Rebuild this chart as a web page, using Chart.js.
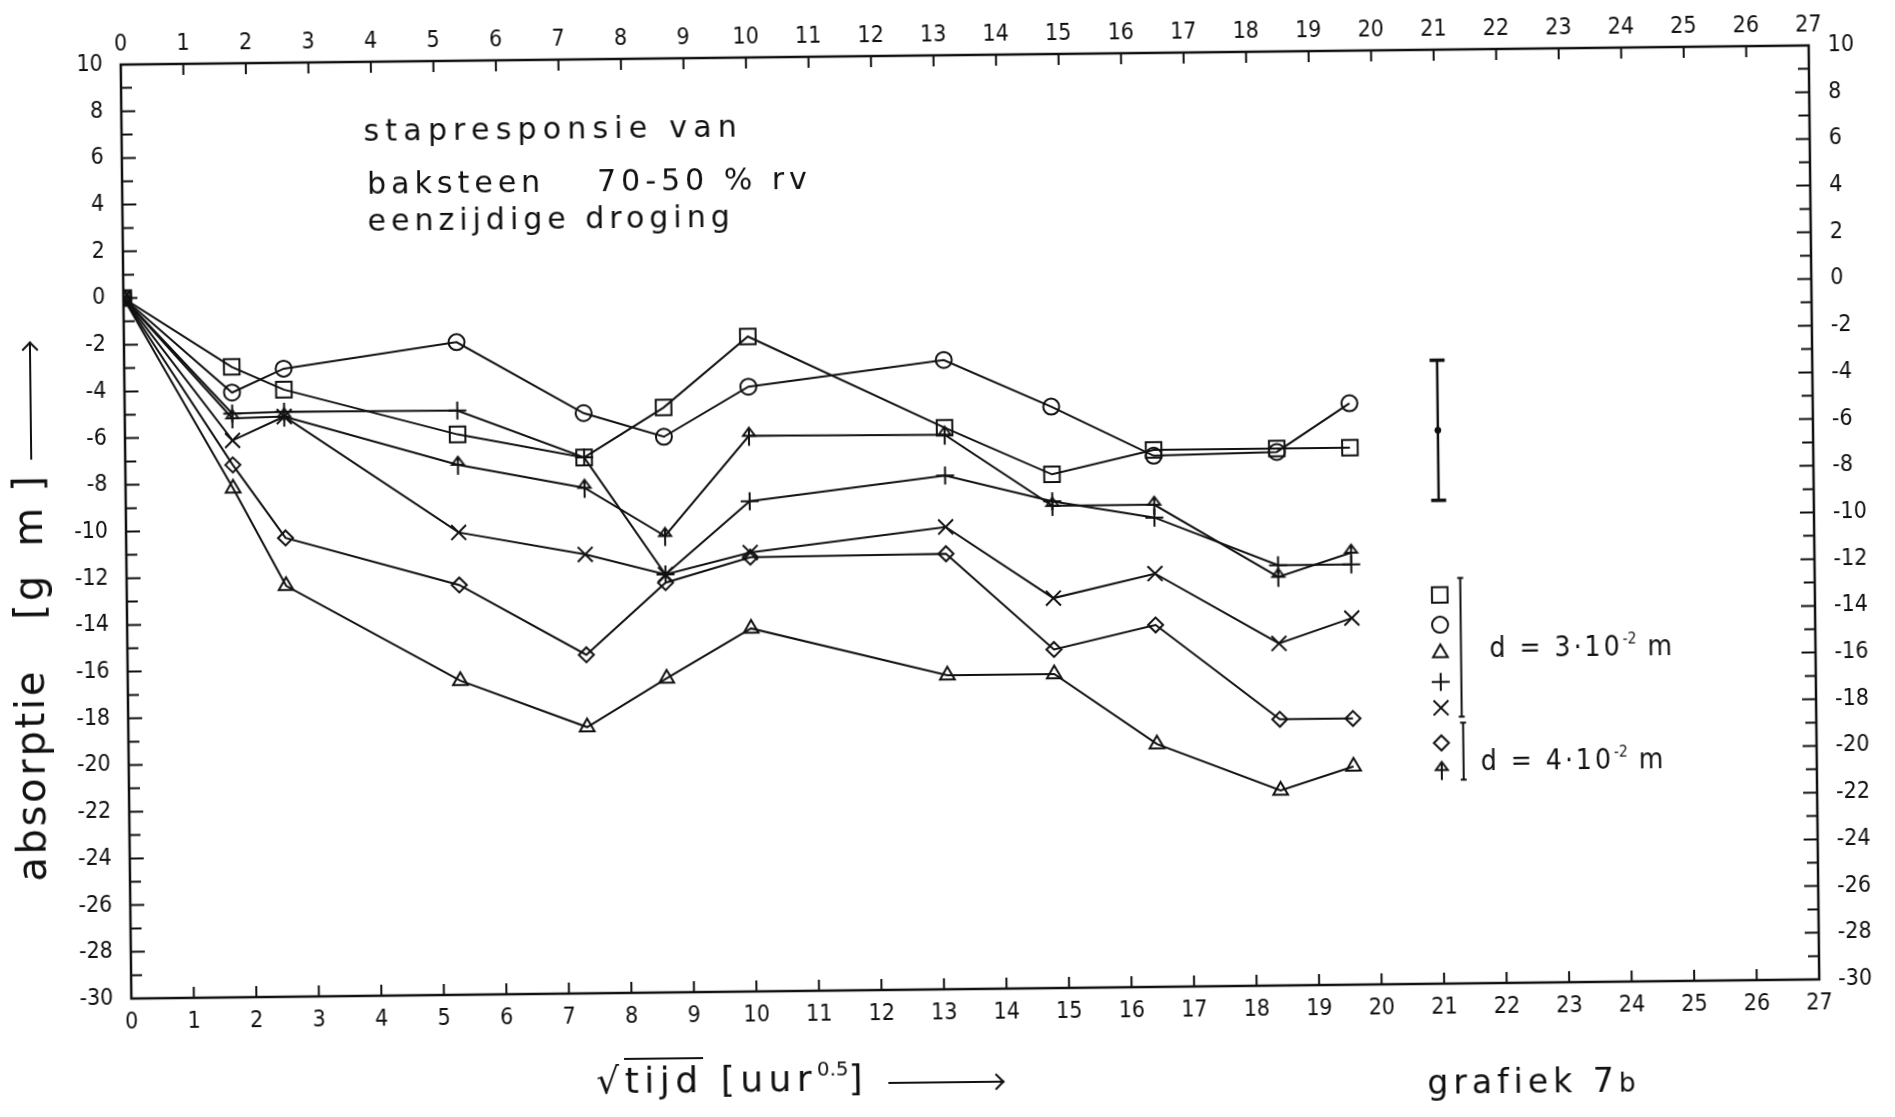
<!DOCTYPE html>
<html lang="nl">
<head>
    <meta charset="UTF-8">
    <title>grafiek 7b</title>
    <script src="https://cdn.jsdelivr.net/npm/chart.js@4.4.1/dist/chart.umd.min.js"></script>
    <style>
        html, body { margin: 0; padding: 0; background: #fff; overflow: hidden; }
        /* het hele vel staat iets scheef, net als de geplotte grafiek */
        #vel {
            position: absolute; left: 0; top: 0;
            width: 1895px; height: 1117px;
            transform: rotate(-0.65deg);
            transform-origin: 970px 522px;
        }
        #grafiek { position: absolute; left: 0; top: 0; }
        .tekst {
            position: absolute; white-space: nowrap; line-height: 1;
            font-family: "DejaVu Sans", sans-serif; color: #111;
        }
        .smal { font-family: "Liberation Sans Narrow", "DejaVu Sans Condensed", sans-serif; }
        sup { font-size: 55%; vertical-align: 0.75em; letter-spacing: 0; }
        .lijnpijl { position: absolute; height: 0; border-top: 2px solid #111; }
        .lijnpijl::after {
            content: ''; position: absolute; right: 1px; top: -7px;
            width: 10px; height: 10px;
            border-top: 2px solid #111; border-right: 2px solid #111;
            transform: rotate(45deg);
        }
        #t1 { left: 368px; top: 109px; font-size: 30px; letter-spacing: 6.2px; }
        #t2 { left: 371px; top: 162px; font-size: 30px; letter-spacing: 5px; }
        #t3 { left: 601px; top: 162px; font-size: 30px; letter-spacing: 5px; }
        #t4 { left: 371px; top: 199px; font-size: 30px; letter-spacing: 5px; }
        #ytitel { left: 8px; top: 871px; width: 560px; height: 40px; transform: rotate(-90deg); transform-origin: left top; }
        #ytitel span { position: absolute; top: 0; font-size: 40px; }
        #xtitel { left: 590px; top: 1058px; font-size: 36px; letter-spacing: 5.5px; }
        #xtitel .over { border-top: 2px solid #111; }
        #xpijl { left: 882px; top: 1081px; width: 115px; }
        #nummer { left: 1421px; top: 1071px; font-size: 33px; letter-spacing: 5px; }
        #d3 { left: 1488px; top: 639px; font-size: 28px; letter-spacing: 3px; }
        #d4 { left: 1478px; top: 752px; font-size: 28px; letter-spacing: 3px; }
    </style>
</head>
<body>
    <div id="vel">
        <canvas id="grafiek" width="1895" height="1117"></canvas>
        <div class="tekst" id="t1">stapresponsie van</div>
        <div class="tekst" id="t2">baksteen</div>
        <div class="tekst" id="t3">70-50 % rv</div>
        <div class="tekst" id="t4">eenzijdige droging</div>
        <div class="tekst" id="ytitel">
            <span style="left:0; letter-spacing:2.7px">absorptie</span>
            <span style="left:262px; letter-spacing:3px">[g</span>
            <span style="left:335px">m</span>
            <span style="left:390px">]</span>
            <div class="lijnpijl" style="left:422px; top:23px; width:117px"></div>
        </div>
        <div class="tekst" id="xtitel">√<span class="over">tijd</span> [uur<sup>0.5</sup>]</div>
        <div class="lijnpijl" id="xpijl"></div>
        <div class="tekst" id="nummer">grafiek 7<span style="font-size:80%; letter-spacing:0">b</span></div>
        <div class="tekst smal" id="d3">d = 3·10<sup>-2</sup> m</div>
        <div class="tekst smal" id="d4">d = 4·10<sup>-2</sup> m</div>
    </div>

    <script>
        // wortel uit de tijd [uur^0.5], gelijk voor alle meetreeksen
        const tijd = [0, 1.72, 2.55, 5.32, 7.34, 8.62, 9.98, 13.11, 14.82, 16.45, 18.42, 19.59];

        // absorptie per proefstuk
        const vierkant = [0, -3.0, -4.0, -6.0, -7.05, -4.95, -1.95, -5.95, -8.0, -7.0, -7.0, -7.0];
        const cirkel   = [0, -4.1, -3.1, -2.05, -5.15, -6.2, -4.1, -3.05, -5.1, -7.25, -7.15, -5.1];
        const driehoek = [0, -8.2, -12.4, -16.55, -18.6, -16.55, -14.45, -16.55, -16.55, -19.6, -21.65, -20.65];
        const plus     = [0, -5.0, -4.95, -4.98, -7.05, -12.1, -9.0, -8.0, -9.15, -9.9, -12.0, -12.0];
        const kruis    = [0, -6.15, -5.15, -10.2, -11.2, -12.1, -11.2, -10.2, -13.3, -12.3, -15.35, -14.3];
        const ruit     = [0, -7.2, -10.35, -12.45, -15.5, -12.45, -11.4, -11.35, -15.5, -14.5, -18.6, -18.6];
        const pijl     = [0, -5.2, -5.15, -7.3, -8.35, -10.45, -6.2, -6.25, -9.35, -9.35, -12.5, -11.5];

        // spreiding van de meting
        const foutX = 21;
        const foutBoven = -3.3;
        const foutMidden = -6.3;
        const foutOnder = -9.3;

        // assen
        const xMin = 0, xMax = 27;
        const yMin = -30, yMax = 10;

        // pijltje als puntsymbool
        function maakPijl() {
            const c = document.createElement('canvas');
            c.width = 20; c.height = 22;
            const g = c.getContext('2d');
            g.strokeStyle = '#111';
            g.lineWidth = 2;
            g.beginPath();
            g.moveTo(10, 3); g.lineTo(10, 21);
            g.moveTo(4, 11); g.lineTo(10, 3); g.lineTo(16, 11); g.closePath();
            g.stroke();
            return c;
        }

        const reeksen = [
            { label: 'vierkant', values: vierkant, pointStyle: 'rect', radius: 11 },
            { label: 'cirkel', values: cirkel, pointStyle: 'circle', radius: 8 },
            { label: 'driehoek', values: driehoek, pointStyle: 'triangle', radius: 8.5 },
            { label: 'plus', values: plus, pointStyle: 'cross', radius: 9 },
            { label: 'kruis', values: kruis, pointStyle: 'crossRot', radius: 10.5 },
            { label: 'ruit', values: ruit, pointStyle: 'rectRot', radius: 7.5 },
            { label: 'pijl', values: pijl, pointStyle: maakPijl(), radius: 10 }
        ];

        const datasets = reeksen.map(r => ({
            label: r.label,
            data: tijd.map((t, i) => ({ x: t, y: r.values[i] })),
            showLine: true,
            tension: 0,
            borderColor: '#111',
            borderWidth: 2,
            pointStyle: r.pointStyle,
            pointRadius: r.radius,
            pointHoverRadius: r.radius,
            pointBorderColor: '#111',
            pointBorderWidth: 2,
            pointBackgroundColor: 'rgba(0,0,0,0)'
        }));

        // foutbalk met streepjes aan de uiteinden
        datasets.push({
            label: 'spreiding',
            data: [{ x: foutX, y: foutBoven }, { x: foutX, y: foutOnder }],
            showLine: true,
            borderColor: '#111',
            borderWidth: 2.5,
            pointStyle: 'line',
            pointRadius: 7.5,
            pointBorderColor: '#111',
            pointBorderWidth: 3.5
        });
        datasets.push({
            label: 'gemiddelde',
            data: [{ x: foutX, y: foutMidden }],
            pointStyle: 'circle',
            pointRadius: 3,
            pointBackgroundColor: '#111',
            pointBorderColor: '#111',
            pointBorderWidth: 1
        });

        // kader met naar binnen gerichte streepjes, plus de symboolverklaring
        const kaderPlugin = {
            id: 'kader',
            afterDatasetsDraw(chart, args, opts) {
                const { ctx, chartArea: a, scales } = chart;
                ctx.save();
                ctx.strokeStyle = '#111';
                ctx.lineWidth = 2.5;
                ctx.strokeRect(a.left, a.top, a.right - a.left, a.bottom - a.top);

                ctx.lineWidth = 2;
                ctx.beginPath();
                for (let v = xMin + 1; v < xMax; v++) {
                    const px = scales.x.getPixelForValue(v);
                    ctx.moveTo(px, a.bottom); ctx.lineTo(px, a.bottom - 11);
                    ctx.moveTo(px, a.top); ctx.lineTo(px, a.top + 11);
                }
                for (let v = yMin + 1; v < yMax; v++) {
                    const py = scales.y.getPixelForValue(v);
                    const len = v % 2 === 0 ? 14 : 11;
                    ctx.moveTo(a.left, py); ctx.lineTo(a.left + len, py);
                    ctx.moveTo(a.right, py); ctx.lineTo(a.right - len, py);
                }
                ctx.stroke();

                // symbolen onder elkaar
                const lx = scales.x.getPixelForValue(opts.x);
                ctx.fillStyle = 'rgba(0,0,0,0)';
                ctx.lineWidth = 2;
                reeksen.forEach((r, i) => {
                    const ly = scales.y.getPixelForValue(opts.y[i]);
                    Chart.helpers.drawPoint(ctx, {
                        pointStyle: r.pointStyle,
                        rotation: 0,
                        radius: r.radius,
                        borderWidth: 2
                    }, lx, ly);
                });

                // haken om de groepen
                ctx.beginPath();
                opts.haken.forEach(h => {
                    const hx = scales.x.getPixelForValue(h.x);
                    const y1 = scales.y.getPixelForValue(h.van);
                    const y2 = scales.y.getPixelForValue(h.tot);
                    ctx.moveTo(hx, y1); ctx.lineTo(hx, y2);
                    ctx.moveTo(hx - 3, y1); ctx.lineTo(hx + 3, y1);
                    ctx.moveTo(hx - 3, y2); ctx.lineTo(hx + 3, y2);
                });
                ctx.stroke();
                ctx.restore();
            }
        };

        const tickFont = { family: '"Liberation Sans Narrow", "DejaVu Sans Condensed", sans-serif', size: 23 };
        const tickColor = '#111';

        new Chart(document.getElementById('grafiek'), {
            type: 'scatter',
            data: { datasets },
            plugins: [kaderPlugin],
            options: {
                responsive: false,
                animation: false,
                devicePixelRatio: 1,
                layout: { padding: 0 },
                plugins: {
                    legend: { display: false },
                    tooltip: { enabled: false },
                    kader: {
                        x: 21.0,
                        y: [-13.35, -14.63, -15.83, -17.08, -18.19, -19.69, -20.85],
                        haken: [
                            { x: 21.33, van: -12.63, tot: -18.58 },
                            { x: 21.35, van: -18.83, tot: -21.27 }
                        ]
                    }
                },
                scales: {
                    x: {
                        type: 'linear', position: 'bottom', min: xMin, max: xMax,
                        grid: { display: false, drawTicks: false },
                        border: { display: false },
                        ticks: { stepSize: 1, autoSkip: false, maxRotation: 0, padding: 10, font: tickFont, color: tickColor },
                        afterFit: s => { s.height = 128; }
                    },
                    x2: {
                        type: 'linear', position: 'top', min: xMin, max: xMax,
                        grid: { display: false, drawTicks: false },
                        border: { display: false },
                        ticks: { stepSize: 1, autoSkip: false, maxRotation: 0, padding: 6, font: tickFont, color: tickColor },
                        afterFit: s => { s.height = 55; }
                    },
                    y: {
                        type: 'linear', position: 'left', min: yMin, max: yMax,
                        grid: { display: false, drawTicks: false },
                        border: { display: false },
                        ticks: { stepSize: 2, autoSkip: false, padding: 18, font: tickFont, color: tickColor },
                        afterFit: s => { s.width = 126; }
                    },
                    y2: {
                        type: 'linear', position: 'right', min: yMin, max: yMax,
                        grid: { display: false, drawTicks: false },
                        border: { display: false },
                        ticks: { stepSize: 2, autoSkip: false, padding: 19, font: tickFont, color: tickColor },
                        afterFit: s => { s.width = 81; }
                    }
                }
            }
        });
    </script>
</body>
</html>
